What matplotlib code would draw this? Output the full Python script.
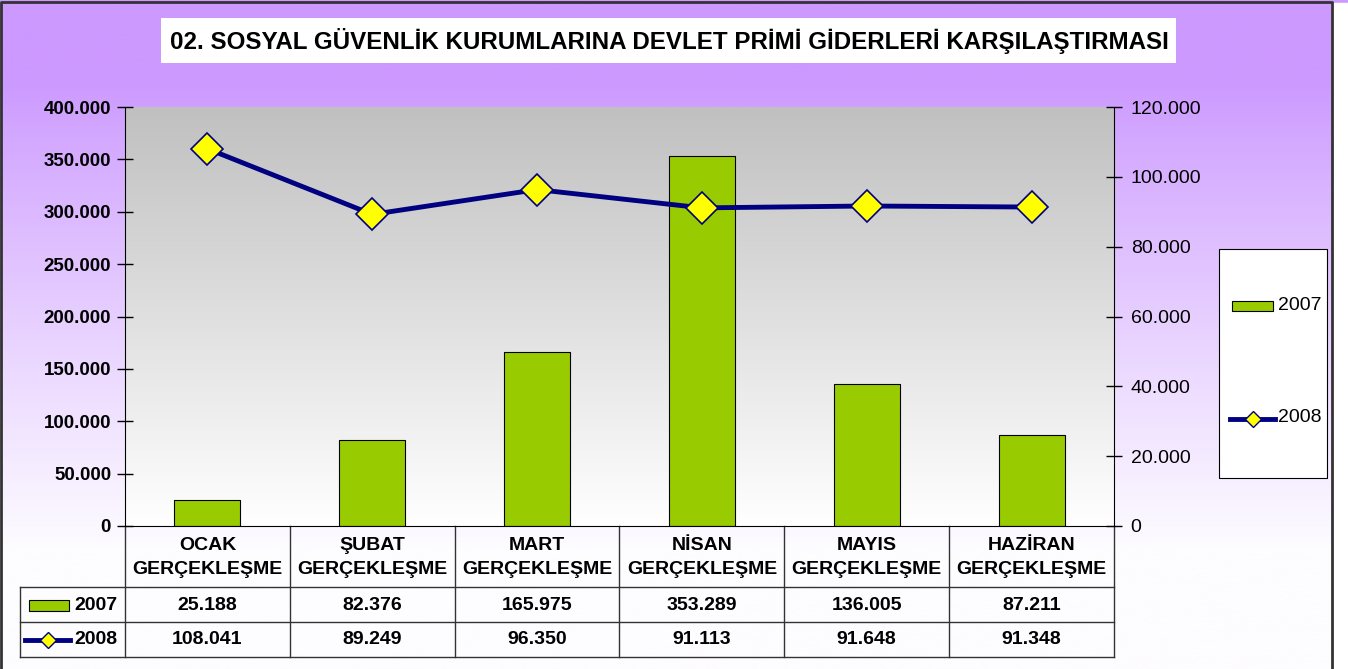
import matplotlib
matplotlib.use("Agg")
import matplotlib.pyplot as plt
import numpy as np
from matplotlib.transforms import blended_transform_factory
from matplotlib.patches import Rectangle
from matplotlib.lines import Line2D

plt.rcParams['font.family'] = ['Liberation Sans', 'DejaVu Sans']

months = ['OCAK', 'ŞUBAT', 'MART', 'NİSAN', 'MAYIS', 'HAZİRAN']
row_sub = 'GERÇEKLEŞME'
series_names = ['2007', '2008']
y2007 = [25188, 82376, 165975, 353289, 136005, 87211]
y2008 = [108041, 89249, 96350, 91113, 91648, 91348]
left_ticks = [0, 50000, 100000, 150000, 200000, 250000, 300000, 350000, 400000]
right_ticks = [0, 20000, 40000, 60000, 80000, 100000, 120000]
title = '02. SOSYAL GÜVENLİK KURUMLARINA DEVLET PRİMİ GİDERLERİ KARŞILAŞTIRMASI'

W, H = 1348, 669
GREEN = '#99CC00'
NAVY = '#000080'
YELLOW = '#FFFF00'


def fmt(v):
    return '{:,}'.format(int(v)).replace(',', '.')


def fx(x):
    return x / W


def fy(y):
    return 1 - y / H


fig = plt.figure(figsize=(W / 100, H / 100), dpi=100)

# background gradient: purple at top fading to white
bg = fig.add_axes([0, 0, 1, 1], zorder=-10)
t = np.linspace(0, 1, 400)
t = np.clip((t - 0.12) / 0.70, 0, 1) ** 0.9
top = np.array([0xCC, 0x99, 0xFF]) / 255
bot = np.array([0xFD, 0xFC, 0xFF]) / 255
grad = top[None, :] * (1 - t[:, None]) + bot[None, :] * t[:, None]
bg.imshow(grad[:, None, :], aspect='auto', extent=[0, 1, 0, 1])
bg.set_xlim(0, 1)
bg.set_ylim(0, 1)
bg.axis('off')
# frame
bg.add_patch(Rectangle((fx(1333), 0), 1 - fx(1333), fy(3), color='white'))
bg.plot([fx(1), fx(1), fx(1332), fx(1332)], [0, fy(2), fy(2), 0], color='#333333', lw=2)

# title
fig.patches.append(Rectangle((fx(161), fy(63)), fx(1176) - fx(161), fy(18) - fy(63),
                             transform=fig.transFigure, facecolor='white', edgecolor='none'))
fig.text(fx(669), fy(41), title, ha='center', va='center', fontsize=17.4, fontweight='bold')

ax = fig.add_axes([fx(125), fy(526), fx(1114) - fx(125), fy(107) - fy(526)])
x = np.arange(len(months))
ax.set_xlim(-0.5, len(months) - 0.5)

# plot area gradient
g = np.linspace(0, 1, 200)
c1 = np.array([0xC0, 0xC0, 0xC0]) / 255
c2 = np.array([1.0, 1.0, 1.0])
pg = c1[None, :] * (1 - g[:, None]) + c2[None, :] * g[:, None]
ax.imshow(pg[:, None, :], aspect='auto', extent=[-0.5, len(months) - 0.5, 0, 400000],
          origin='upper', zorder=0)
ax.set_ylim(0, 400000)

ax.bar(x, y2007, width=0.4, color=GREEN, edgecolor='black', linewidth=0.8, zorder=2)
ax.set_yticks(left_ticks)
ax.set_yticklabels([fmt(v) for v in left_ticks], fontsize=13.5, fontweight='bold')
ax.tick_params(axis='y', direction='inout', length=12, width=1, pad=4)
ax.set_xticks([])
ax.spines['top'].set_visible(False)
ax.spines['right'].set_visible(False)

ax2 = ax.twinx()
ax2.set_ylim(0, 120000)
ax2.plot(x, y2008, color=NAVY, lw=3.5, marker='D', markersize=16,
         markerfacecolor=YELLOW, markeredgecolor=NAVY, markeredgewidth=1.2, zorder=3)
ax2.set_yticks(right_ticks)
ax2.set_yticklabels([fmt(v) for v in right_ticks], fontsize=14)
ax2.tick_params(axis='y', direction='inout', length=12, width=1, pad=6)
ax2.spines['top'].set_visible(False)
ax2.spines['left'].set_visible(False)
ax2.spines['bottom'].set_visible(False)

# data table below the plot
tr = blended_transform_factory(ax.transData, fig.transFigure)
xl = -0.5 - 105 / (989 / 6)
y_top, y_h, y_r1, y_r2 = fy(526), fy(587), fy(622), fy(657)
lc = '#333333'
for b in np.arange(-0.5, len(months) + 0.5, 1):
    ax.add_line(Line2D([b, b], [y_top, y_r2], transform=tr, color=lc, lw=1, clip_on=False))
ax.add_line(Line2D([xl, xl], [y_h, y_r2], transform=tr, color=lc, lw=1, clip_on=False))
for yy in (y_h, y_r1, y_r2):
    ax.add_line(Line2D([xl, len(months) - 0.5], [yy, yy], transform=tr, color=lc, lw=1,
                       clip_on=False))

for i, m in enumerate(months):
    ax.text(i, fy(545), m, transform=tr, ha='center', va='center', fontsize=14,
            fontweight='bold')
    ax.text(i, fy(570), row_sub, transform=tr, ha='center', va='center', fontsize=14,
            fontweight='bold')
    ax.text(i, fy(605), fmt(y2007[i]), transform=tr, ha='center', va='center', fontsize=14,
            fontweight='bold')
    ax.text(i, fy(640), fmt(y2008[i]), transform=tr, ha='center', va='center', fontsize=14,
            fontweight='bold')

# row keys
ax.add_patch(Rectangle((fx(29), fy(611)), fx(69) - fx(29), fy(600) - fy(611),
                       transform=fig.transFigure, facecolor=GREEN, edgecolor='black',
                       lw=0.8, clip_on=False))
fig.text(fx(74), fy(605), series_names[0], ha='left', va='center', fontsize=14,
         fontweight='bold')
fig.lines.append(Line2D([fx(25), fx(70)], [fy(640), fy(640)], transform=fig.transFigure,
                        color=NAVY, lw=3.5))
fig.lines.append(Line2D([fx(48)], [fy(640)], transform=fig.transFigure, marker='D',
                        markersize=8, markerfacecolor=YELLOW, markeredgecolor=NAVY,
                        markeredgewidth=1))
fig.text(fx(74), fy(640), series_names[1], ha='left', va='center', fontsize=14,
         fontweight='bold')

# legend box
fig.patches.append(Rectangle((fx(1219), fy(478)), fx(1327) - fx(1219), fy(249) - fy(478),
                             transform=fig.transFigure, facecolor='white',
                             edgecolor='black', lw=0.8))
fig.patches.append(Rectangle((fx(1232), fy(311)), fx(1273) - fx(1232), fy(301) - fy(311),
                             transform=fig.transFigure, facecolor=GREEN,
                             edgecolor='black', lw=0.8))
fig.text(fx(1278), fy(306), series_names[0], ha='left', va='center', fontsize=14)
fig.lines.append(Line2D([fx(1230), fx(1275)], [fy(419), fy(419)], transform=fig.transFigure,
                        color=NAVY, lw=3.5))
fig.lines.append(Line2D([fx(1253)], [fy(419)], transform=fig.transFigure, marker='D',
                        markersize=8, markerfacecolor=YELLOW, markeredgecolor=NAVY,
                        markeredgewidth=1))
fig.text(fx(1278), fy(418), series_names[1], ha='left', va='center', fontsize=14)

fig.savefig('out.png', dpi=100)
